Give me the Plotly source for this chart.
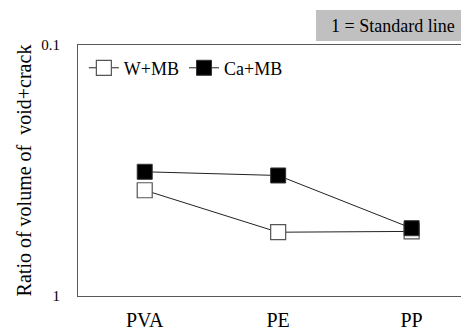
import plotly.graph_objects as go

categories = ["PVA", "PE", "PP"]
w_mb = [0.379, 0.557, 0.553]
ca_mb = [0.320, 0.331, 0.537]
y_ticks = [0.1, 1]
y_tick_labels = ["0.1", "1"]

FONT = "Liberation Serif"

# the page body adds an 8px margin, so the figure is 8px smaller than the window
W, H = 461, 325
L, T, B = 70, 37, 37
PW, PH = W - L, H - T - B

fig = go.Figure()
fig.add_trace(go.Scatter(
    x=categories, y=w_mb, name="W+MB", mode="lines+markers",
    line=dict(color="#222222", width=1),
    marker=dict(symbol="square", size=15, color="white", line=dict(color="#555555", width=1.2)),
))
fig.add_trace(go.Scatter(
    x=categories, y=ca_mb, name="Ca+MB", mode="lines+markers",
    line=dict(color="#222222", width=1),
    marker=dict(symbol="square", size=15, color="black", line=dict(color="#333333", width=1)),
))

fig.update_layout(
    width=W, height=H,
    margin=dict(l=L, r=0, t=T, b=B, pad=0),
    paper_bgcolor="white", plot_bgcolor="white",
    font=dict(family=FONT, size=18, color="black"),
    showlegend=True,
    legend=dict(orientation="h", x=0.015, y=0.908, yanchor="middle", xanchor="left",
                bgcolor="rgba(0,0,0,0)", font=dict(size=18, family=FONT),
                itemwidth=30, tracegroupgap=0),
    xaxis=dict(type="category", range=[-0.5, 2.43], showline=True, linecolor="#595959",
               linewidth=1, mirror=True, ticks="", showgrid=False, zeroline=False,
               automargin=False,
               tickfont=dict(size=20, family=FONT), ticklabelstandoff=6),
    yaxis=dict(type="log", range=[0, -1], showline=True, linecolor="#595959", linewidth=1,
               ticks="", showgrid=False, zeroline=False, tickvals=y_ticks, automargin=False,
               ticktext=y_tick_labels, tickfont=dict(size=15, family=FONT),
               ticklabelstandoff=14,
               title=dict(text="Ratio of volume of  void+crack", font=dict(size=20, family=FONT),
                          standoff=4)),
)

box_x0 = (308 - L) / PW
box_y0 = (H - B - 33) / PH
box_y1 = (H - B - 2) / PH
fig.add_shape(type="rect", xref="paper", yref="paper",
              x0=box_x0, x1=1.0, y0=box_y0, y1=box_y1,
              fillcolor="#c0c0c0", line=dict(width=0), layer="below")
fig.add_annotation(xref="paper", yref="paper", x=(box_x0 + 1.0) / 2,
                   y=(box_y0 + box_y1) / 2, text="1 = Standard line", showarrow=False,
                   font=dict(size=18, family=FONT, color="black"),
                   xanchor="center", yanchor="middle")

fig.write_html("out.html")
